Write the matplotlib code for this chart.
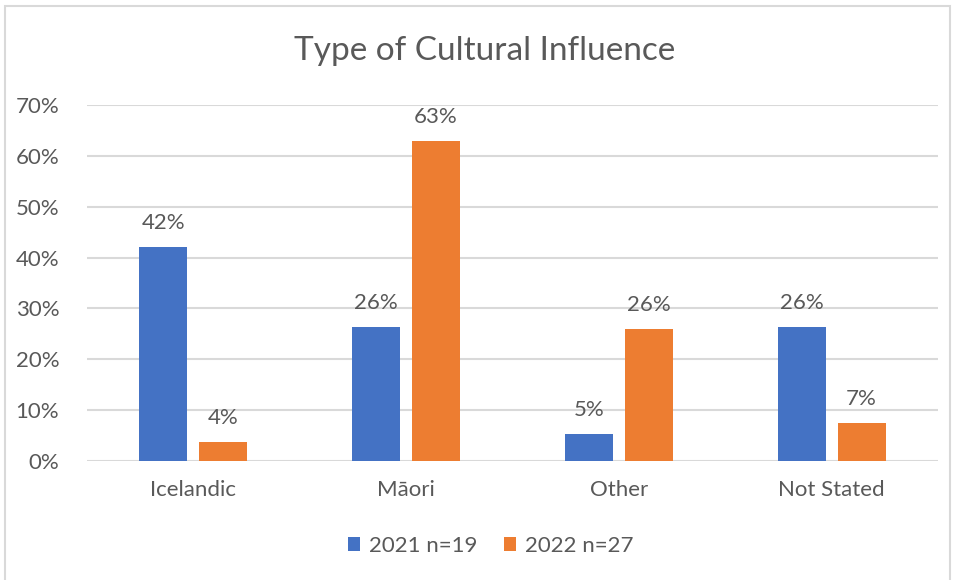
import matplotlib.pyplot as plt
import numpy as np
from matplotlib.patches import Rectangle

categories = ["Icelandic", "Māori", "Other", "Not Stated"]
series_names = ["2021 n=19", "2022 n=27"]
values_2021 = [0.421, 0.263, 0.053, 0.263]
values_2022 = [0.037, 0.630, 0.259, 0.074]
y_ticks = [0, 0.1, 0.2, 0.3, 0.4, 0.5, 0.6, 0.7]

text_color = "#595959"
grid_color = "#D9D9D9"
colors = ["#4472C4", "#ED7D31"]

plt.rcParams['font.family'] = ['Lato', 'DejaVu Sans']

fig = plt.figure(figsize=(9.57, 5.8), dpi=100)
ax = fig.add_axes([87 / 957, 1 - 461 / 580, (938 - 87) / 957, (461 - 105) / 580])

x = np.arange(len(categories))
width = 0.226
offset = 0.141

for i, (vals, name) in enumerate(zip([values_2021, values_2022], series_names)):
    pos = x + (offset if i else -offset)
    bars = ax.bar(pos, vals, width=width, color=colors[i], label=name, zorder=3)
    for b, v in zip(bars, vals):
        ax.annotate(f"{round(v * 100):.0f}%", (b.get_x() + b.get_width() / 2, v),
                    xytext=(0, 10), textcoords="offset points", ha="center", va="bottom",
                    fontsize=16, color=text_color)

ax.set_xlim(-0.5, len(categories) - 0.5)
ax.set_ylim(0, 0.7)
ax.set_yticks(y_ticks)
ax.set_yticklabels([f"{int(round(t * 100))}%" for t in y_ticks])
ax.set_xticks(x)
ax.set_xticklabels(categories)
ax.tick_params(axis="both", length=0, labelsize=16, colors=text_color)
ax.tick_params(axis="y", pad=20)
ax.tick_params(axis="x", pad=14)
ax.grid(axis="y", color=grid_color, linewidth=1.5, zorder=0)
for s in ax.spines.values():
    s.set_visible(False)

fig.text(0.506, 1 - 51 / 580, "Type of Cultural Influence", ha="center", va="center",
         fontsize=24, color=text_color)

fig.legend(loc="center", bbox_to_anchor=(491 / 957, 1 - 546 / 580), ncol=2, frameon=False,
           fontsize=16, labelcolor=text_color, handlelength=0.55, handleheight=0.55,
           handletextpad=0.4, columnspacing=1.2)

fig.add_artist(Rectangle((5 / 957, -0.02), 945 / 957, 1.02 - 6 / 580, transform=fig.transFigure,
                         fill=False, edgecolor=grid_color, linewidth=1.5))

fig.savefig("out.png", dpi=100)
